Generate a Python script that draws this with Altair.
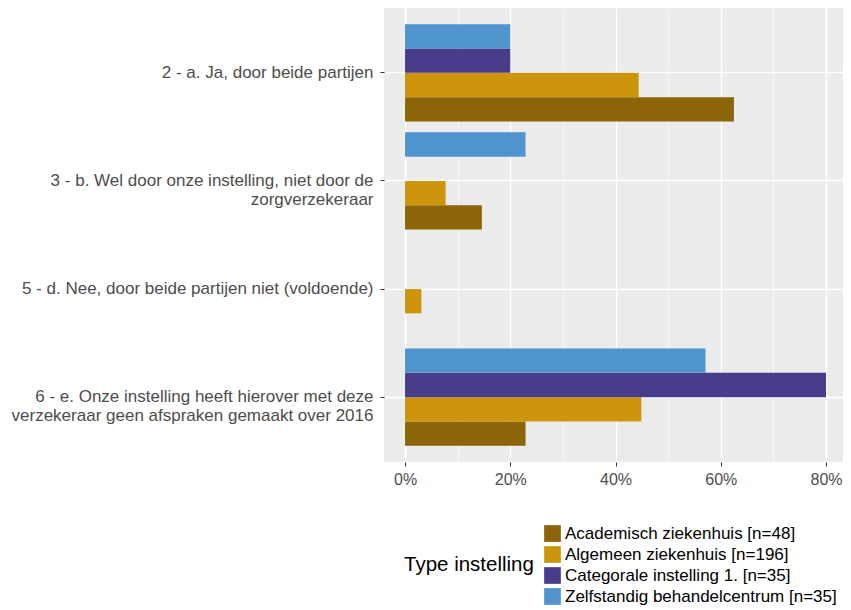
import altair as alt
import pandas as pd

categories = [
    "2 - a. Ja, door beide partijen",
    "3 - b. Wel door onze instelling, niet door de|zorgverzekeraar",
    "5 - d. Nee, door beide partijen niet (voldoende)",
    "6 - e. Onze instelling heeft hierover met deze|verzekeraar geen afspraken gemaakt over 2016",
]
series = [
    "Academisch ziekenhuis [n=48]",
    "Algemeen ziekenhuis [n=196]",
    "Categorale instelling 1. [n=35]",
    "Zelfstandig behandelcentrum [n=35]",
]
academisch = [0.625, 0.146, 0.0, 0.229]
algemeen = [0.444, 0.077, 0.031, 0.449]
categorale = [0.200, 0.0, 0.0, 0.800]
zelfstandig = [0.200, 0.229, 0.0, 0.571]
colors = ["#8B6508", "#CD950C", "#483D8B", "#4F94CD"]

rows = []
for s, vals in zip(series, [academisch, algemeen, categorale, zelfstandig]):
    for c, v in zip(categories, vals):
        rows.append({"cat": c, "type": s, "value": v})
df = pd.DataFrame(rows)

FONT = "Liberation Sans"
major_test = "round(datum.value*10) % 2 == 0"

chart = alt.Chart(df).mark_bar().encode(
    x=alt.X(
        "value:Q",
        scale=alt.Scale(domain=[-0.04, 0.8323], nice=False, zero=False),
        axis=alt.Axis(
            values=[0, 0.1, 0.2, 0.3, 0.4, 0.5, 0.6, 0.7, 0.8],
            labelExpr=f"{major_test} ? format(datum.value, '.0%') : ''",
            title=None,
            grid=True,
            gridColor="white",
            gridWidth={"condition": {"test": major_test, "value": 1.4}, "value": 0.6},
            tickOpacity={"condition": {"test": major_test, "value": 1}, "value": 0},
            tickColor="#333333",
            tickSize=4,
            domain=False,
            labelFont=FONT,
            labelFontSize=16,
            labelColor="#4D4D4D",
            labelPadding=5,
        ),
    ),
    y=alt.Y(
        "cat:N",
        sort=categories,
        scale=alt.Scale(paddingInner=0.1, paddingOuter=0.15),
        axis=alt.Axis(
            title=None,
            grid=True,
            gridColor="white",
            gridWidth=1.4,
            bandPosition=0.5,
            domain=False,
            tickColor="#333333",
            tickSize=4,
            labelPadding=7,
            labelFont=FONT,
            labelFontSize=17,
            labelColor="#4D4D4D",
            labelLimit=500,
            labelLineHeight=19,
            labelExpr="split(datum.label, '|')",
            minExtent=376,
            maxExtent=376,
        ),
    ),
    yOffset=alt.YOffset(
        "type:N",
        sort=series[::-1],
        scale=alt.Scale(domain=series[::-1], paddingInner=0, paddingOuter=0),
    ),
    color=alt.Color(
        "type:N",
        scale=alt.Scale(domain=series, range=colors),
        legend=alt.Legend(
            title="Type instelling",
            orient="none",
            legendX=20,
            legendY=517,
            direction="vertical",
            titleOrient="left",
            titleAnchor="middle",
            titleBaseline="middle",
            titleFont=FONT,
            titleFontSize=20.5,
            titleFontWeight="normal",
            titleColor="black",
            titlePadding=10,
            labelFont=FONT,
            labelFontSize=17,
            labelColor="black",
            labelLimit=400,
            labelOffset=4,
            symbolType="square",
            symbolSize=279,
            symbolStrokeWidth=0,
            symbolOpacity=1,
            rowPadding=3,
        ),
    ),
).properties(
    width=459,
    height=454,
    padding=0,
).configure_view(
    fill="#EBEBEB",
    stroke=None,
)

chart.save("out.html", embed_options={"renderer": "svg", "actions": False})
